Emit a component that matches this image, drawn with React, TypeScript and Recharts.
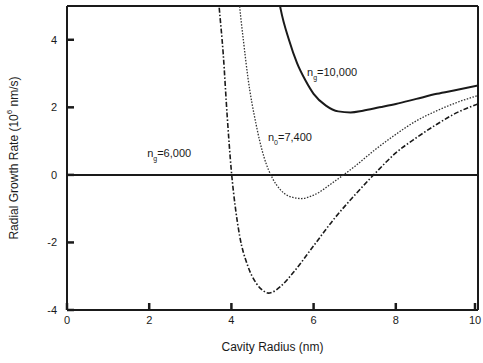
import { Line, LineChart, ReferenceDot, ReferenceLine, XAxis, YAxis, Label } from "recharts";

// x (nm) and growth rate (10^6 nm/s)
const radius = [3.6, 3.7, 3.8, 3.9, 4.0, 4.1, 4.2, 4.3, 4.4, 4.6, 4.8, 4.9, 5.0, 5.1, 5.2, 5.4, 5.5, 5.6, 5.7, 5.8, 6.0, 6.3, 6.5, 6.6, 6.9, 7.0, 7.2, 7.5, 7.6, 8.0, 8.5, 9.0, 9.5, 10];
const ng6000 = [6.5, 5.0, 3.6, 1.7, 0.1, -1.0, -1.8, null, -2.7, -3.2, -3.45, -3.5, -3.47, null, -3.3, null, -2.9, null, null, null, -2.1, null, -1.3, null, null, -0.6, null, 0.05, null, 0.65, 1.1, 1.5, 1.85, 2.1];
const n07400 = [null, null, null, null, null, 6.5, 5.0, 3.9, 2.9, 1.5, 0.5, null, -0.1, null, -0.45, -0.63, null, null, -0.7, null, -0.6, null, -0.2, null, null, 0.25, null, 0.75, null, 1.2, 1.6, 1.9, 2.15, 2.35];
const ng10000 = [null, null, null, null, null, null, null, null, null, null, null, null, null, 5.6, 4.9, 4.0, null, 3.3, null, 2.8, 2.4, 2.05, null, 1.88, 1.85, null, 1.9, null, 2.0, 2.1, 2.25, 2.4, 2.52, 2.65];

const xTicks = [0, 2, 4, 6, 8, 10];
const yTicks = [-4, -2, 0, 2, 4];

const data = radius.map((r, i) => ({ r, a: ng6000[i], b: n07400[i], c: ng10000[i] }));

const ink = "#1a1a1a";
const font = "'Liberation Sans', Arial, sans-serif";

// tick marks point into the plot, labels sit outside (x/y here are the label anchor, 6px off the axis)
function XTick({ x, y, payload }: any) {
  return (
    <g>
      <line x1={x} x2={x} y1={y - 13} y2={y - 6} stroke={ink} strokeWidth={2.5} />
      <text x={x} y={y + 8} textAnchor="middle" fill={ink} fontSize={11} fontFamily={font}>{payload.value}</text>
    </g>
  );
}

function YTick({ x, y, payload }: any) {
  return (
    <g>
      <line x1={x + 6} x2={x + 13} y1={y} y2={y} stroke={ink} strokeWidth={2.5} />
      <text x={x - 4} y={y + 4} textAnchor="end" fill={ink} fontSize={11} fontFamily={font}>{payload.value}</text>
    </g>
  );
}

function SubLabel({ viewBox, name, sub, value }: any) {
  const { x, y } = viewBox;
  return (
    <text x={x} y={y + 4} fill={ink} fontSize={11} fontFamily={font}>
      <tspan>{name}</tspan>
      <tspan fontSize={7} dy={4}>{sub}</tspan>
      <tspan dy={-4}>{value}</tspan>
    </text>
  );
}

function YTitle({ viewBox }: any) {
  const cx = 18;
  const cy = viewBox.y + viewBox.height / 2;
  return (
    <text x={cx} y={cy} transform={`rotate(-90 ${cx} ${cy})`} textAnchor="middle" fill={ink} fontSize={12} fontFamily={font}>
      <tspan>Radial Growth Rate (10</tspan>
      <tspan fontSize={8} dy={-6}>6</tspan>
      <tspan dy={6}> nm/s)</tspan>
    </text>
  );
}

export default function App() {
  return (
    <div style={{ position: "absolute", left: 0, top: 0, background: "#fff" }}>
      <LineChart width={483} height={363} data={data} margin={{ top: 6, right: 5, bottom: 8, left: 0 }}>
        <XAxis
          dataKey="r"
          type="number"
          domain={[0, 10]}
          ticks={xTicks}
          allowDataOverflow
          height={45}
          stroke={ink}
          strokeWidth={2}
          tickLine={false}
          tickSize={0}
          tickMargin={6}
          tick={<XTick />}
        >
          <Label value="Cavity Radius (nm)" position="insideBottom" offset={4} fill={ink} fontSize={12} fontFamily={font} />
        </XAxis>
        <YAxis
          type="number"
          domain={[-4, 5]}
          ticks={yTicks}
          allowDataOverflow
          width={67}
          stroke={ink}
          strokeWidth={2}
          tickLine={false}
          tickSize={0}
          tickMargin={6}
          tick={<YTick />}
        >
          <Label content={<YTitle />} />
        </YAxis>
        <ReferenceLine y={5} stroke={ink} strokeWidth={2} />
        <ReferenceLine x={10} stroke={ink} strokeWidth={2} />
        <ReferenceLine y={0} stroke={ink} strokeWidth={2} />
        <Line dataKey="a" type="monotone" connectNulls stroke={ink} strokeWidth={1.6} strokeDasharray="5 2 1.5 2" dot={false} isAnimationActive={false} />
        <Line dataKey="b" type="monotone" connectNulls stroke="#333" strokeWidth={1.3} strokeDasharray="1.5 1.5" dot={false} isAnimationActive={false} />
        <Line dataKey="c" type="monotone" connectNulls stroke={ink} strokeWidth={2} dot={false} isAnimationActive={false} />
        <ReferenceDot x={5.84} y={3.05} r={0} fill="none" stroke="none" label={<SubLabel name="n" sub="g" value="=10,000" />} />
        <ReferenceDot x={4.89} y={1.13} r={0} fill="none" stroke="none" label={<SubLabel name="n" sub="0" value="=7,400" />} />
        <ReferenceDot x={1.95} y={0.65} r={0} fill="none" stroke="none" label={<SubLabel name="n" sub="g" value="=6,000" />} />
      </LineChart>
    </div>
  );
}
